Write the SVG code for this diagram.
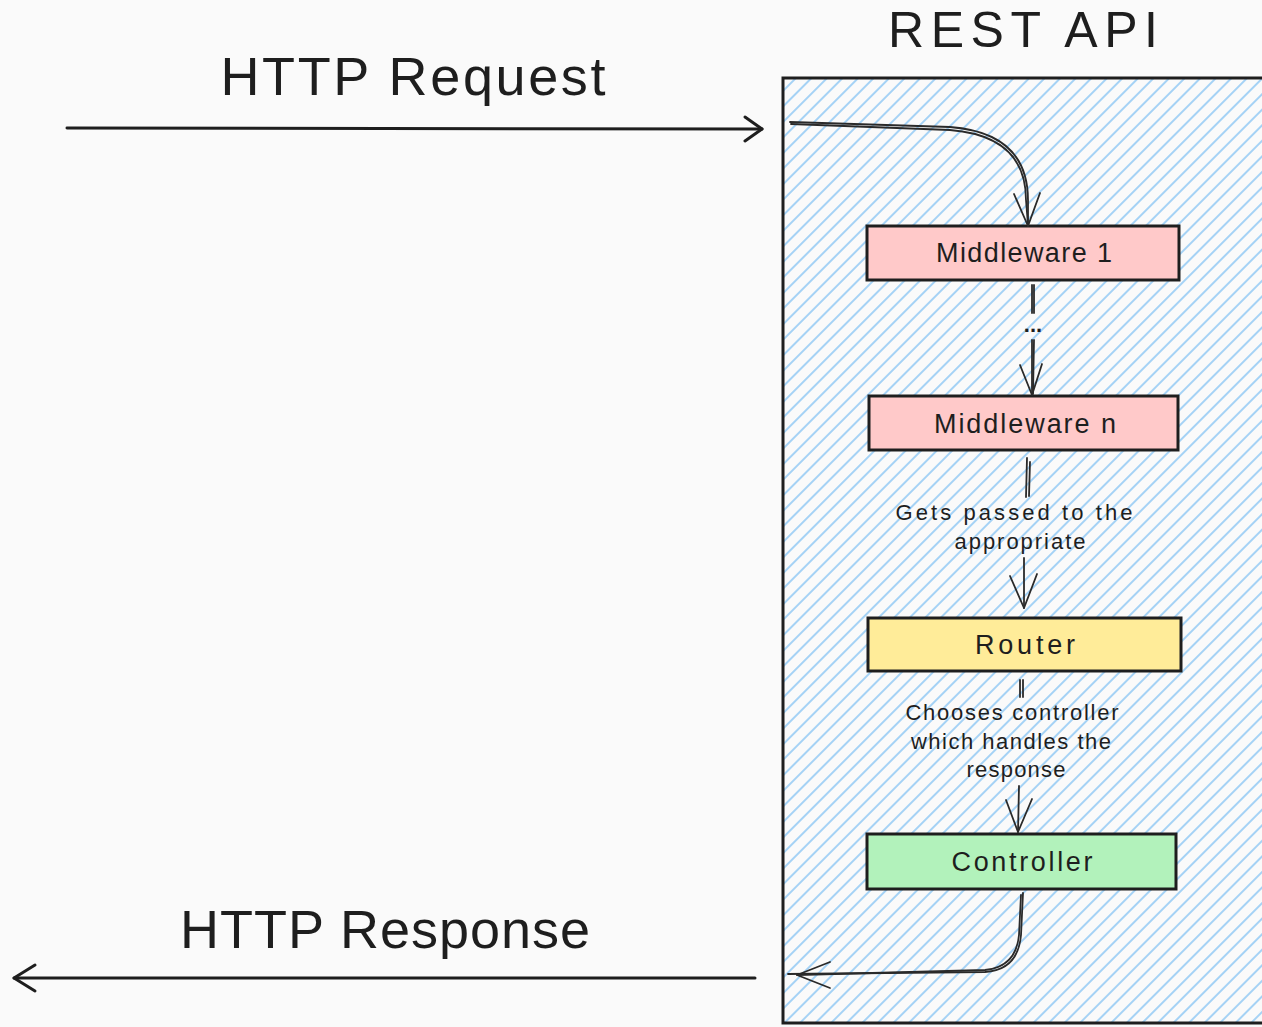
<svg xmlns="http://www.w3.org/2000/svg" width="1262" height="1027" viewBox="0 0 1262 1027">
  <style>
    .t { font-family: "Liberation Sans", Arial, sans-serif; fill: #1e1e1e; text-anchor: middle; }
    .big { font-size: 54px; }
    .node { font-size: 27px; }
    .lbl { font-size: 22px; }
    .box { stroke: #1e1e1e; stroke-width: 3; }
    .ln { fill: none; stroke: #1e1e1e; stroke-width: 3; stroke-linecap: round; stroke-linejoin: round; }
    .thin { fill: none; stroke: #2a2a2a; stroke-width: 1.8; stroke-linecap: round; stroke-linejoin: round; }
  </style>
  <defs>
    <pattern id="hatch" patternUnits="userSpaceOnUse" width="11" height="11" patternTransform="rotate(45)">
      <line x1="2" y1="0" x2="2" y2="11" stroke="#96cbf5" stroke-width="1.7"/>
    </pattern>
  </defs>
  <rect x="0" y="0" width="1262" height="1027" fill="#fafafa"/>

  <g id="rest-api">
    <rect x="783" y="78" width="520" height="945" fill="#fafafa"/>
    <rect x="783" y="78" width="520" height="945" fill="url(#hatch)" class="box"/>
    <text x="1023" y="47" class="t" font-size="50" textLength="270" lengthAdjust="spacing">REST API</text>
  </g>

  <g id="label-request">
    <text x="413" y="95" class="t big" textLength="385" lengthAdjust="spacing">HTTP Request</text>
  </g>
  <g id="label-response">
    <text x="385" y="948" class="t big" textLength="410" lengthAdjust="spacing">HTTP Response</text>
  </g>

  <g id="middleware-1">
    <rect x="867" y="226" width="312" height="54" fill="#ffc9c9" class="box"/>
    <text x="1024" y="262" class="t node" textLength="176" lengthAdjust="spacing">Middleware 1</text>
  </g>
  <g id="middleware-n">
    <rect x="869" y="396" width="309" height="54" fill="#ffc9c9" class="box"/>
    <text x="1025" y="433" class="t node" textLength="182" lengthAdjust="spacing">Middleware n</text>
  </g>
  <g id="router">
    <rect x="868" y="618" width="313" height="53" fill="#ffec99" class="box"/>
    <text x="1025" y="654" class="t node" textLength="100" lengthAdjust="spacing">Router</text>
  </g>
  <g id="controller">
    <rect x="867" y="834" width="309" height="55" fill="#b2f2bb" class="box"/>
    <text x="1022" y="871" class="t node" textLength="141" lengthAdjust="spacing">Controller</text>
  </g>

  <g id="connectors">
    <path class="ln" d="M67,128 L762,129"/>
    <path class="ln" stroke-width="2.5" d="M745,117 L762,129 L745,141"/>
    <path class="ln" d="M755,978 L14,978"/>
    <path class="ln" stroke-width="2.5" d="M35,965 L14,978 L35,991"/>
    <path class="thin" d="M790,122 L950,127 Q1028,133 1028,200 L1028,226"/>
    <path class="thin" d="M791,124 L950,130 Q1026,136 1026,200 L1028,225"/>
    <path class="thin" d="M1014,194 L1028,226 L1040,193"/>
    <path class="thin" stroke="#666" d="M1032,285 L1032,313 M1032,340 L1032,394"/>
    <path class="thin" stroke="#666" d="M1034,285 L1034,313 M1034,340 L1033,394"/>
    <text x="1033" y="332" class="t lbl" font-weight="bold">...</text>
    <path class="thin" d="M1020,365 L1032,395 L1042,364"/>
    <path class="thin" stroke="#777" d="M1027,458 L1026,497 M1024,558 L1024,608"/>
    <path class="thin" stroke="#777" d="M1030,462 L1029,496"/>
    <text x="1014" y="520" class="t lbl" textLength="237" lengthAdjust="spacing">Gets passed to the</text>
    <text x="1020" y="549" class="t lbl" textLength="131" lengthAdjust="spacing">appropriate</text>
    <path class="thin" d="M1010,576 L1024,608 L1037,574"/>
    <path class="thin" stroke="#777" d="M1020,680 L1020,697 M1023,680 L1023,697 M1019,786 L1018,832"/>
    <text x="1012" y="720" class="t lbl" textLength="213" lengthAdjust="spacing">Chooses controller</text>
    <text x="1011" y="749" class="t lbl" textLength="200" lengthAdjust="spacing">which handles the</text>
    <text x="1016" y="777" class="t lbl" textLength="99" lengthAdjust="spacing">response</text>
    <path class="thin" d="M1006,800 L1018,832 L1032,799"/>
    <path class="thin" d="M1023,893 L1021,935 Q1018,970 985,972 L788,974"/>
    <path class="thin" d="M1021,895 L1019,935 Q1016,967 985,970 L797,975"/>
    <path class="thin" d="M830,962 L797,975 L830,988"/>
  </g>
</svg>
